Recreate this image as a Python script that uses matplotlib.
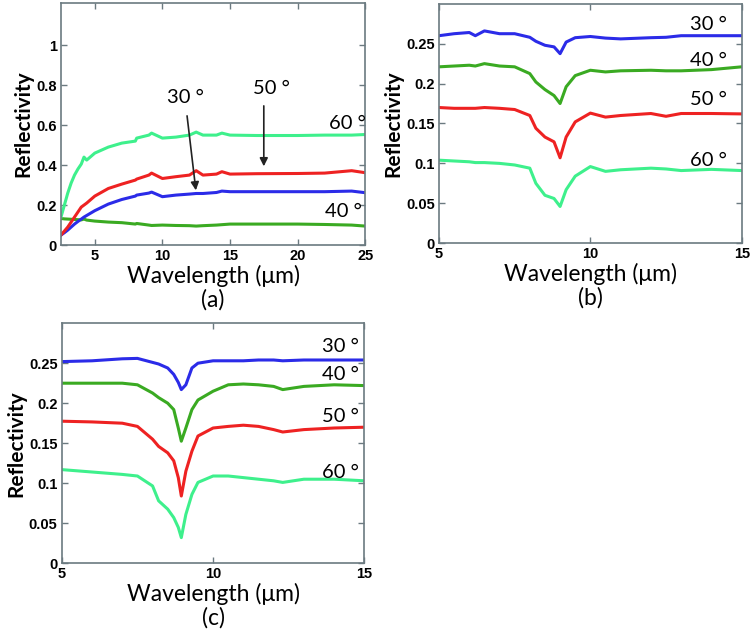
import numpy as np
import matplotlib.pyplot as plt

# ---- data ----
# panel (a): broad spectrum
x_a = [2.5, 2.75, 3, 3.25, 3.5, 3.75, 4, 4.2, 4.4, 5, 6, 7, 8, 8.1, 9, 9.2, 10,
       11, 12, 12.5, 13, 14, 14.4, 15, 17, 20, 22, 24, 25]
a_60 = [0.14, 0.2, 0.26, 0.31, 0.35, 0.38, 0.405, 0.44, 0.425, 0.46, 0.49, 0.51,
        0.52, 0.535, 0.55, 0.56, 0.535, 0.54, 0.55, 0.565, 0.55, 0.55, 0.56,
        0.55, 0.548, 0.548, 0.55, 0.55, 0.553]
a_50 = [0.05, 0.07, 0.09, 0.115, 0.14, 0.165, 0.19, 0.2, 0.21, 0.245, 0.283,
        0.305, 0.325, 0.33, 0.35, 0.36, 0.333, 0.342, 0.35, 0.372, 0.35, 0.355,
        0.367, 0.355, 0.357, 0.358, 0.36, 0.372, 0.362]
a_30 = [0.05, 0.062, 0.075, 0.09, 0.105, 0.118, 0.13, 0.14, 0.148, 0.172, 0.205,
        0.228, 0.245, 0.25, 0.26, 0.265, 0.242, 0.25, 0.255, 0.258, 0.258, 0.263,
        0.27, 0.267, 0.267, 0.267, 0.267, 0.27, 0.262]
a_40 = [0.133, 0.131, 0.13, 0.129, 0.128, 0.127, 0.126, 0.13, 0.125, 0.12, 0.115,
        0.112, 0.105, 0.108, 0.1, 0.098, 0.1, 0.098, 0.097, 0.095, 0.097, 0.1,
        0.102, 0.105, 0.105, 0.105, 0.103, 0.1, 0.095]

# panel (b)
x_b = [5, 5.5, 6, 6.2, 6.5, 7, 7.5, 8, 8.2, 8.5, 8.8, 9, 9.2, 9.5, 10, 10.5, 11,
       12, 12.5, 13, 14, 15]
b_30 = [0.26, 0.2625, 0.264, 0.26, 0.266, 0.2625, 0.2625, 0.258, 0.253, 0.248,
        0.246, 0.2375, 0.252, 0.2575, 0.259, 0.257, 0.256, 0.2575, 0.258, 0.26,
        0.26, 0.26]
b_40 = [0.221, 0.222, 0.223, 0.222, 0.225, 0.222, 0.221, 0.2125, 0.202, 0.1925,
        0.185, 0.175, 0.196, 0.21, 0.2167, 0.2146, 0.216, 0.2167, 0.216, 0.216,
        0.2175, 0.221]
b_50 = [0.17, 0.169, 0.169, 0.169, 0.17, 0.169, 0.1675, 0.16, 0.144, 0.133, 0.127,
        0.107, 0.133, 0.152, 0.163, 0.158, 0.16, 0.1625, 0.159, 0.1625, 0.1625,
        0.162]
b_60 = [0.104, 0.103, 0.102, 0.101, 0.101, 0.1, 0.098, 0.094, 0.075, 0.06, 0.056,
        0.046, 0.067, 0.084, 0.096, 0.09, 0.092, 0.094, 0.093, 0.091, 0.0925,
        0.091]

# panel (c)
x_c = [5, 6, 7, 7.5, 8, 8.2, 8.5, 8.7, 8.85, 8.95, 9.1, 9.3, 9.5, 10, 10.5, 11,
       11.5, 12, 12.3, 13, 14, 15]
c_30 = [0.252, 0.253, 0.2555, 0.256, 0.251, 0.249, 0.244, 0.236, 0.226, 0.217,
        0.223, 0.244, 0.25, 0.253, 0.253, 0.253, 0.254, 0.254, 0.253, 0.254,
        0.254, 0.254]
c_40 = [0.225, 0.225, 0.225, 0.223, 0.2127, 0.207, 0.2, 0.192, 0.169, 0.1525,
        0.169, 0.192, 0.204, 0.215, 0.223, 0.224, 0.223, 0.221, 0.217, 0.221,
        0.223, 0.222]
c_50 = [0.1775, 0.1766, 0.175, 0.171, 0.155, 0.146, 0.138, 0.128, 0.107, 0.084,
        0.115, 0.14, 0.159, 0.169, 0.171, 0.1725, 0.171, 0.167, 0.164, 0.167,
        0.169, 0.17]
c_60 = [0.117, 0.114, 0.111, 0.109, 0.0966, 0.078, 0.0676, 0.057, 0.0448, 0.032,
        0.061, 0.086, 0.101, 0.109, 0.109, 0.107, 0.105, 0.103, 0.101, 0.105,
        0.105, 0.103]

angles = ['30 °', '40 °', '50 °', '60 °']
colors = {'30 °': '#2b2be8', '40 °': '#3aaa22', '50 °': '#ee2222', '60 °': '#3ef08c'}
spine_col = '#6b7a80'

fig = plt.figure(figsize=(7.53, 6.3), dpi=100)


def style_axes(ax, xlim, ylim, xticks, yticks, yticklabels, tag):
    ax.set_xlim(*xlim)
    ax.set_ylim(*ylim)
    ax.set_xticks(xticks)
    ax.set_yticks(yticks)
    ax.set_yticklabels(yticklabels)
    ax.tick_params(direction='in', length=4, width=1, color=spine_col,
                   top=True, right=True, labelsize=10.5, pad=3)
    for lab in ax.get_xticklabels() + ax.get_yticklabels():
        lab.set_family('Liberation Sans')
        lab.set_fontweight('bold')
    for sp in ax.spines.values():
        sp.set_color(spine_col)
        sp.set_linewidth(1.2)
    ax.set_ylabel('Reflectivity', family='Lato', fontweight='bold', fontsize=15,
                  labelpad=2)
    ax.set_xlabel('Wavelength (\u03bcm)\n(' + tag + ')', family='Lato',
                  fontsize=16.5, labelpad=1, linespacing=1.12)


# ---- (a) ----
ax_a = fig.add_axes([0.081, 0.611, 0.404, 0.384])
for name, y in zip(['40 °', '30 °', '50 °', '60 °'], [a_40, a_30, a_50, a_60]):
    ax_a.plot(x_a, y, color=colors[name], lw=2.2)
style_axes(ax_a, (2.5, 25), (0, 1.21), [5, 10, 15, 20, 25],
           [0, 0.2, 0.4, 0.6, 0.8, 1.0], ['0', '0.2', '0.4', '0.6', '0.8', '1'], 'a')
lbl = dict(family='Lato', fontsize=14.5, ha='center', va='center')
ax_a.text(23.7, 0.61, '60 °', **lbl)
ax_a.text(23.4, 0.17, '40 °', **lbl)
ax_a.text(11.7, 0.74, '30 °', **lbl)
ax_a.text(18.1, 0.785, '50 °', **lbl)
arw = dict(arrowstyle='-|>', color='#222222', lw=1.2, mutation_scale=12)
ax_a.annotate('', xy=(12.5, 0.26), xytext=(11.8, 0.66), arrowprops=arw)
ax_a.annotate('', xy=(17.5, 0.38), xytext=(17.5, 0.71), arrowprops=arw)

# ---- (b) ----
ax_b = fig.add_axes([0.583, 0.614, 0.402, 0.380])
for name, y in zip(angles, [b_30, b_40, b_50, b_60]):
    ax_b.plot(x_b, y, color=colors[name], lw=2.2)
style_axes(ax_b, (5, 15), (0, 0.3), [5, 10, 15],
           [0, 0.05, 0.1, 0.15, 0.2, 0.25], ['0', '0.05', '0.1', '0.15', '0.2', '0.25'], 'b')
for name, yv in zip(angles, [0.274, 0.229, 0.18, 0.104]):
    ax_b.text(13.9, yv, name, **lbl)

# ---- (c) ----
ax_c = fig.add_axes([0.082, 0.106, 0.402, 0.381])
for name, y in zip(angles, [c_30, c_40, c_50, c_60]):
    ax_c.plot(x_c, y, color=colors[name], lw=2.2)
style_axes(ax_c, (5, 15), (0, 0.3), [5, 10, 15],
           [0, 0.05, 0.1, 0.15, 0.2, 0.25], ['0', '0.05', '0.1', '0.15', '0.2', '0.25'], 'c')
for name, yv in zip(angles, [0.271, 0.236, 0.184, 0.113]):
    ax_c.text(14.2, yv, name, **lbl)

fig.savefig('out.png', dpi=100)
